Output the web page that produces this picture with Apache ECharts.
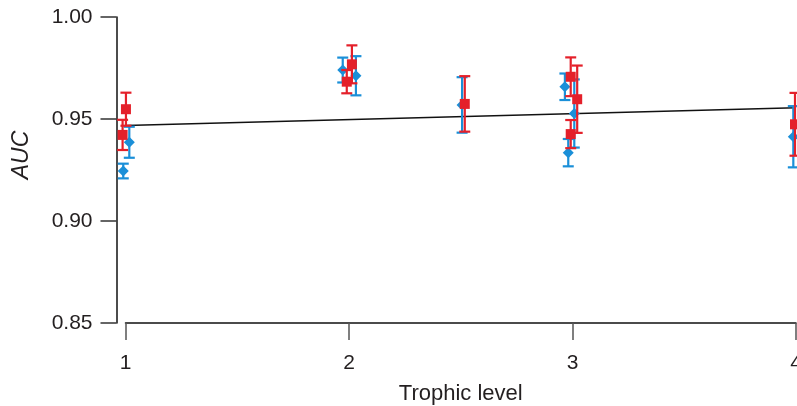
<!DOCTYPE html>
<html>
<head>
<meta charset="utf-8">
<script src="https://cdn.jsdelivr.net/npm/echarts@6/dist/echarts.min.js"></script>
<style>
html,body{margin:0;padding:0;background:#fff;overflow:hidden;}
#chart{width:797px;height:406px;}
</style>
</head>
<body>
<div id="chart"></div>
<script>
// Data
const xTicks = [1, 2, 3, 4];
const yTicks = [0.85, 0.90, 0.95, 1.00];

const blueX   = [1.017, 0.990, 1.972, 2.031, 2.506, 2.966, 3.008, 2.981, 3.988];
const blueY   = [0.9386, 0.9245, 0.9740, 0.9712, 0.9569, 0.9658, 0.9527, 0.9335, 0.9413];
const blueErr = [0.0076, 0.0036, 0.0061, 0.0096, 0.0136, 0.0065, 0.0167, 0.0067, 0.0150];

const redX   = [1.002, 0.987, 2.013, 1.990, 2.518, 2.992, 3.021, 2.992, 3.9955];
const redY   = [0.9548, 0.9422, 0.9768, 0.9683, 0.9574, 0.9707, 0.9597, 0.9426, 0.9474];
const redErr = [0.0081, 0.0074, 0.0093, 0.0057, 0.0136, 0.0095, 0.0165, 0.0069, 0.0154];

const trendX = [1, 4];
const trendY = [0.9468, 0.9555];

const BLUE = '#1a8fd8';
const RED = '#e4202a';
const TEXT = '#231f20';
const FONT = 'Liberation Sans, Arial, sans-serif';

function errData(xs, ys, es) { return xs.map((x, i) => [x, ys[i], es[i]]); }
function ptData(xs, ys) { return xs.map((x, i) => [x, ys[i]]); }

function errRender(color) {
  return function (params, api) {
    const x = api.value(0), y = api.value(1), e = api.value(2);
    const t = api.coord([x, y + e]);
    const b = api.coord([x, y - e]);
    const hw = 5.5;
    const st = { stroke: color, lineWidth: 2.2, fill: null };
    return {
      type: 'group',
      children: [
        { type: 'line', shape: { x1: t[0], y1: t[1], x2: b[0], y2: b[1] }, style: st },
        { type: 'line', shape: { x1: t[0] - hw, y1: t[1], x2: t[0] + hw, y2: t[1] }, style: st },
        { type: 'line', shape: { x1: b[0] - hw, y1: b[1], x2: b[0] + hw, y2: b[1] }, style: st }
      ]
    };
  };
}

const chart = echarts.init(document.getElementById('chart'), null, { renderer: 'canvas' });
chart.setOption({
  animation: false,
  backgroundColor: '#fff',
  grid: { left: 125.5, right: 1, top: 17, bottom: 83, containLabel: false, outerBoundsMode: 'none' },
  xAxis: {
    type: 'value', min: xTicks[0], max: xTicks[xTicks.length - 1], interval: 1,
    name: 'Trophic level', nameLocation: 'middle', nameGap: 60,
    nameTextStyle: { fontFamily: FONT, fontSize: 22, color: TEXT },
    axisLine: { show: true, lineStyle: { color: '#111', width: 1.5 } },
    axisTick: { show: true, length: 17, lineStyle: { color: '#555', width: 1.5 } },
    axisLabel: { margin: 30, fontFamily: FONT, fontSize: 21, color: TEXT, showMaxLabel: true, showMinLabel: true, hideOverlap: false },
    splitLine: { show: false }
  },
  yAxis: {
    type: 'value', min: yTicks[0], max: yTicks[yTicks.length - 1], interval: 0.05,
    offset: 9,
    axisLine: { show: true, lineStyle: { color: '#111', width: 1.5 } },
    axisTick: { show: true, length: 16, lineStyle: { color: '#333', width: 1.5 } },
    axisLabel: { margin: 24, fontFamily: FONT, fontSize: 21, color: TEXT, formatter: v => v.toFixed(2) },
    splitLine: { show: false }
  },
  graphic: [{
    type: 'text', x: 22, y: 155, rotation: Math.PI / 2,
    style: { text: 'AUC', font: 'italic 23px ' + FONT, fill: TEXT, align: 'center', verticalAlign: 'middle' }
  }],
  series: [
    { type: 'line', data: ptData(trendX, trendY), symbol: 'none', lineStyle: { color: '#111', width: 1.5 }, z: 1 },
    { type: 'custom', data: errData(blueX, blueY, blueErr), renderItem: errRender(BLUE), clip: false, z: 2 },
    { type: 'scatter', data: ptData(blueX, blueY), symbol: 'diamond', symbolSize: 11, clip: false, itemStyle: { color: BLUE, opacity: 1 }, z: 3 },
    { type: 'custom', data: errData(redX, redY, redErr), renderItem: errRender(RED), clip: false, z: 4 },
    { type: 'scatter', data: ptData(redX, redY), symbol: 'rect', symbolSize: 10, clip: false, itemStyle: { color: RED, opacity: 1 }, z: 5 }
  ]
});
</script>
</body>
</html>
